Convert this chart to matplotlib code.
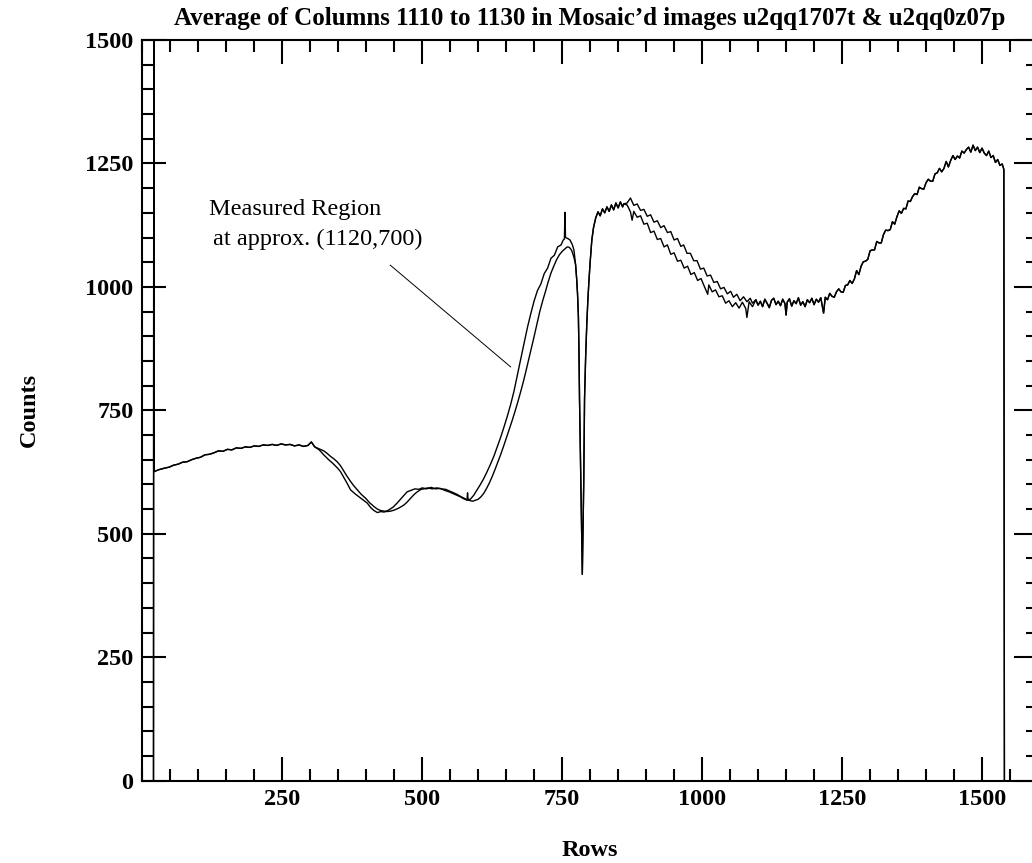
import matplotlib
matplotlib.use("Agg")
import matplotlib.pyplot as plt
from matplotlib.ticker import FixedLocator, MultipleLocator

# shared start of both profiles (mosaic edge at row ~20)
rows_start = [20, 20.5, 21, 30, 40, 48, 56, 64, 72, 80, 88, 96, 104, 112, 120, 128, 136, 144,
              152, 160, 168, 176, 184, 192, 200, 208, 216, 224, 232, 240, 248, 256, 264, 272,
              280, 288, 296, 302, 308]
counts_start = [0, 1600, 626, 630, 633, 635, 639, 641, 645, 646, 650, 653, 655, 660, 661, 664, 668, 667,
                671, 670, 674, 673, 676, 675, 678, 677, 680, 679, 681, 679, 682, 680, 681, 678,
                680, 677, 679, 686, 676]

# u2qq1707t (left-shifted profile) between the edge and the bar
rows_mid_a = [316, 324, 332, 340, 348, 354, 360, 366, 372, 380, 387, 395, 402, 408, 414, 420, 426, 432,
              440, 448, 455, 462, 468, 473, 480, 487, 494, 500, 508, 516, 524, 532, 540, 548, 556,
              562, 568, 574, 580, 581, 582, 586, 592, 598, 604, 610, 616, 622, 628, 634, 640, 646,
              652, 658, 664, 670, 676, 682, 688, 694, 700, 706, 712, 718, 724, 730, 736, 742, 748,
              752, 754, 755, 756, 760, 764, 768, 771]
counts_mid_a = [670, 660, 651, 643, 634, 626, 614, 602, 589, 581, 575, 568, 562, 553, 547, 543, 545, 544,
                548, 554, 562, 571, 579, 585, 588, 591, 590, 593, 591, 594, 591, 592, 588, 585, 581,
                578, 575, 571, 568, 583, 569, 570, 578, 589, 600, 612, 626, 641, 657, 676, 695, 716,
                738, 762, 789, 822, 854, 886, 918, 946, 972, 993, 1006, 1027, 1038, 1058, 1064, 1081, 1085,
                1095, 1097, 1151, 1100, 1098, 1095, 1086, 1075]

# u2qq0z07p (right-shifted profile)
rows_mid_b = [316, 324, 330, 336, 342, 348, 354, 360, 366, 372, 378, 384, 391, 399, 406, 414, 420, 426,
              432, 437, 444, 450, 458, 467, 472, 476, 481, 485, 490, 494, 498, 503, 510, 518, 526,
              534, 542, 550, 556, 562, 568, 575, 580, 586, 590, 595, 600, 605, 610, 615, 620, 625,
              630, 635, 640, 645, 650, 655, 660, 665, 670, 675, 680, 685, 690, 695, 700, 705, 710,
              715, 720, 725, 730, 735, 740, 745, 750, 755, 759, 763, 767, 771]
counts_mid_b = [672, 668, 663, 657, 652, 646, 638, 627, 616, 606, 597, 589, 580, 572, 563, 555, 550, 547,
                546, 545, 546, 548, 552, 558, 563, 568, 574, 579, 584, 587, 590, 591, 593, 591, 593,
                591, 590, 586, 583, 580, 576, 572, 569, 567, 566, 568, 570, 575, 582, 592, 603, 616,
                630, 645, 660, 676, 693, 710, 727, 745, 764, 784, 805, 828, 852, 876, 900, 925, 950,
                971, 990, 1010, 1028, 1042, 1055, 1065, 1072, 1077, 1081, 1080, 1074, 1060]

# the occulting bar dip and recovery, same in both
rows_dip = [774, 776, 777.5, 779, 780, 781, 783.5, 786, 788.5, 790, 792, 794, 796, 798, 800, 803,
            806, 810, 814, 818, 822, 826, 830, 834, 838, 842, 846, 850, 854, 858, 860]
counts_dip = [1045, 1015, 985, 940, 872, 774, 600, 418, 600, 774, 860, 925, 975, 1015, 1050, 1095,
              1120, 1140, 1152, 1144, 1158, 1150, 1162, 1153, 1166, 1156, 1170, 1160, 1172, 1162, 1168]

rows_tail_a = [866, 872, 875, 878, 884, 890, 896, 902, 908, 914, 920, 926, 932, 938, 944, 950, 956,
               962, 968, 974, 980, 986, 992, 998, 1004, 1010, 1012, 1018, 1024, 1030, 1036, 1042,
               1048, 1054, 1060, 1066, 1072, 1078, 1080, 1084, 1090]
counts_tail_a = [1166, 1152, 1135, 1153, 1141, 1144, 1127, 1129, 1110, 1113, 1096, 1098, 1081, 1085, 1066,
                 1069, 1052, 1054, 1038, 1042, 1025, 1029, 1013, 1017, 1001, 985, 1004, 990, 994, 980,
                 982, 967, 972, 960, 968, 957, 969, 956, 938, 970, 960]

rows_tail_b = [866, 872, 878, 884, 890, 896, 902, 908, 914, 920, 926, 932, 938, 944, 950, 956, 962,
               967, 973, 979, 985, 991, 997, 1003, 1009, 1015, 1021, 1027, 1033, 1039, 1045, 1051,
               1056, 1062, 1068, 1074, 1080, 1086, 1090]
counts_tail_b = [1170, 1180, 1165, 1168, 1155, 1157, 1143, 1146, 1131, 1134, 1120, 1124, 1110, 1112, 1095,
                 1098, 1082, 1085, 1068, 1068, 1053, 1053, 1036, 1038, 1022, 1024, 1009, 1011, 996, 999,
                 986, 991, 979, 985, 972, 980, 970, 977, 967]

# shared end, down to the far mosaic edge
rows_end = [1096, 1100, 1104, 1108, 1112, 1116, 1120, 1124, 1128, 1132, 1136, 1140, 1144, 1148, 1150,
            1152, 1156, 1160, 1164, 1168, 1172, 1176, 1180, 1184, 1188, 1192, 1196, 1200, 1204, 1208,
            1212, 1217, 1220, 1224, 1228, 1232, 1236, 1240, 1244, 1248, 1252, 1256, 1260, 1264, 1268,
            1272, 1276, 1280, 1284, 1288, 1292, 1296, 1300, 1304, 1308, 1312, 1316, 1320, 1324, 1328,
            1332, 1336, 1340, 1344, 1348, 1352, 1356, 1360, 1364, 1368, 1372, 1376, 1380, 1384, 1388,
            1392, 1396, 1400, 1404, 1408, 1412, 1416, 1420, 1424, 1428, 1432, 1436, 1440, 1444, 1448,
            1452, 1456, 1460, 1464, 1468, 1472, 1476, 1480, 1484, 1488, 1492, 1496, 1500, 1504, 1508,
            1512, 1516, 1520, 1524, 1528, 1532, 1536, 1539, 1540]
counts_end = [974, 963, 971, 960, 975, 967, 958, 973, 977, 964, 971, 962, 975, 966, 943,
              969, 976, 961, 972, 966, 978, 963, 970, 960, 974, 968, 977, 964, 975, 969,
              978, 947, 979, 974, 987, 981, 979, 990, 996, 990, 989, 1003, 1004, 1013, 1007,
              1016, 1033, 1025, 1042, 1051, 1052, 1056, 1073, 1075, 1075, 1092, 1089, 1089, 1106, 1115,
              1114, 1116, 1132, 1127, 1142, 1154, 1149, 1159, 1158, 1174, 1173, 1183, 1189, 1187, 1202,
              1199, 1198, 1211, 1218, 1214, 1214, 1229, 1231, 1240, 1233, 1240, 1254, 1243, 1256, 1266,
              1258, 1265, 1261, 1275, 1271, 1278, 1283, 1273, 1287, 1276, 1283, 1272, 1281, 1271, 1266,
              1275, 1262, 1266, 1252, 1258, 1246, 1249, 1238, 0]

pointer_rows = [443, 658]
pointer_counts = [1044, 838]

x_major = [250, 500, 750, 1000, 1250, 1500]
y_major = [0, 250, 500, 750, 1000, 1250, 1500]

rows_a = rows_start + rows_mid_a + rows_dip + rows_tail_a + rows_end
counts_a = counts_start + counts_mid_a + counts_dip + counts_tail_a + counts_end
rows_b = rows_start + rows_mid_b + rows_dip + rows_tail_b + rows_end
counts_b = counts_start + counts_mid_b + counts_dip + counts_tail_b + counts_end

plt.rcParams['font.family'] = ['Liberation Serif', 'DejaVu Serif']

fig = plt.figure(figsize=(10.32, 8.63), dpi=100)
ax = fig.add_axes([142.3/1032, (863-780.7)/863, (1038-142.3)/1032, (780.7-40)/863])

ax.plot(rows_a, counts_a, color='black', lw=1.0)
ax.plot(rows_b, counts_b, color='black', lw=1.0)
ax.plot(pointer_rows, pointer_counts, color='black', lw=0.7)

ax.set_xlim(0, 1600)
ax.set_ylim(0, 1500)

ax.xaxis.set_major_locator(FixedLocator(x_major))
ax.xaxis.set_minor_locator(MultipleLocator(50))
ax.yaxis.set_major_locator(FixedLocator(y_major))
ax.yaxis.set_minor_locator(MultipleLocator(50))
ax.tick_params(which='both', direction='in', top=True, right=True, width=1.5, pad=6.3,
               labelsize=17.5)
ax.tick_params(which='major', length=17)
ax.tick_params(which='minor', length=8.3)
for lab in ax.get_xticklabels() + ax.get_yticklabels():
    lab.set_fontweight('bold')
for sp in ax.spines.values():
    sp.set_linewidth(1.5)

ax.text(120, 1146, "Measured Region", fontsize=17.5, va='baseline', ha='left')
ax.text(126, 1085, "at approx. (1120,700)", fontsize=17.5, va='baseline', ha='left')

fig.text(590/1032, 1-25/863, "Average of Columns 1110 to 1130 in Mosaic\u2019d images u2qq1707t & u2qq0z07p",
         ha='center', va='baseline', fontsize=18, fontweight='bold')
fig.text(29.5/1032, 1-410/863, "Counts", rotation=90, ha='center', va='center',
         fontsize=17.5, fontweight='bold')
fig.text(590/1032, 1-850/863, "Rows", ha='center', va='center', fontsize=17.5, fontweight='bold')

plt.savefig("out.png", dpi=100)
